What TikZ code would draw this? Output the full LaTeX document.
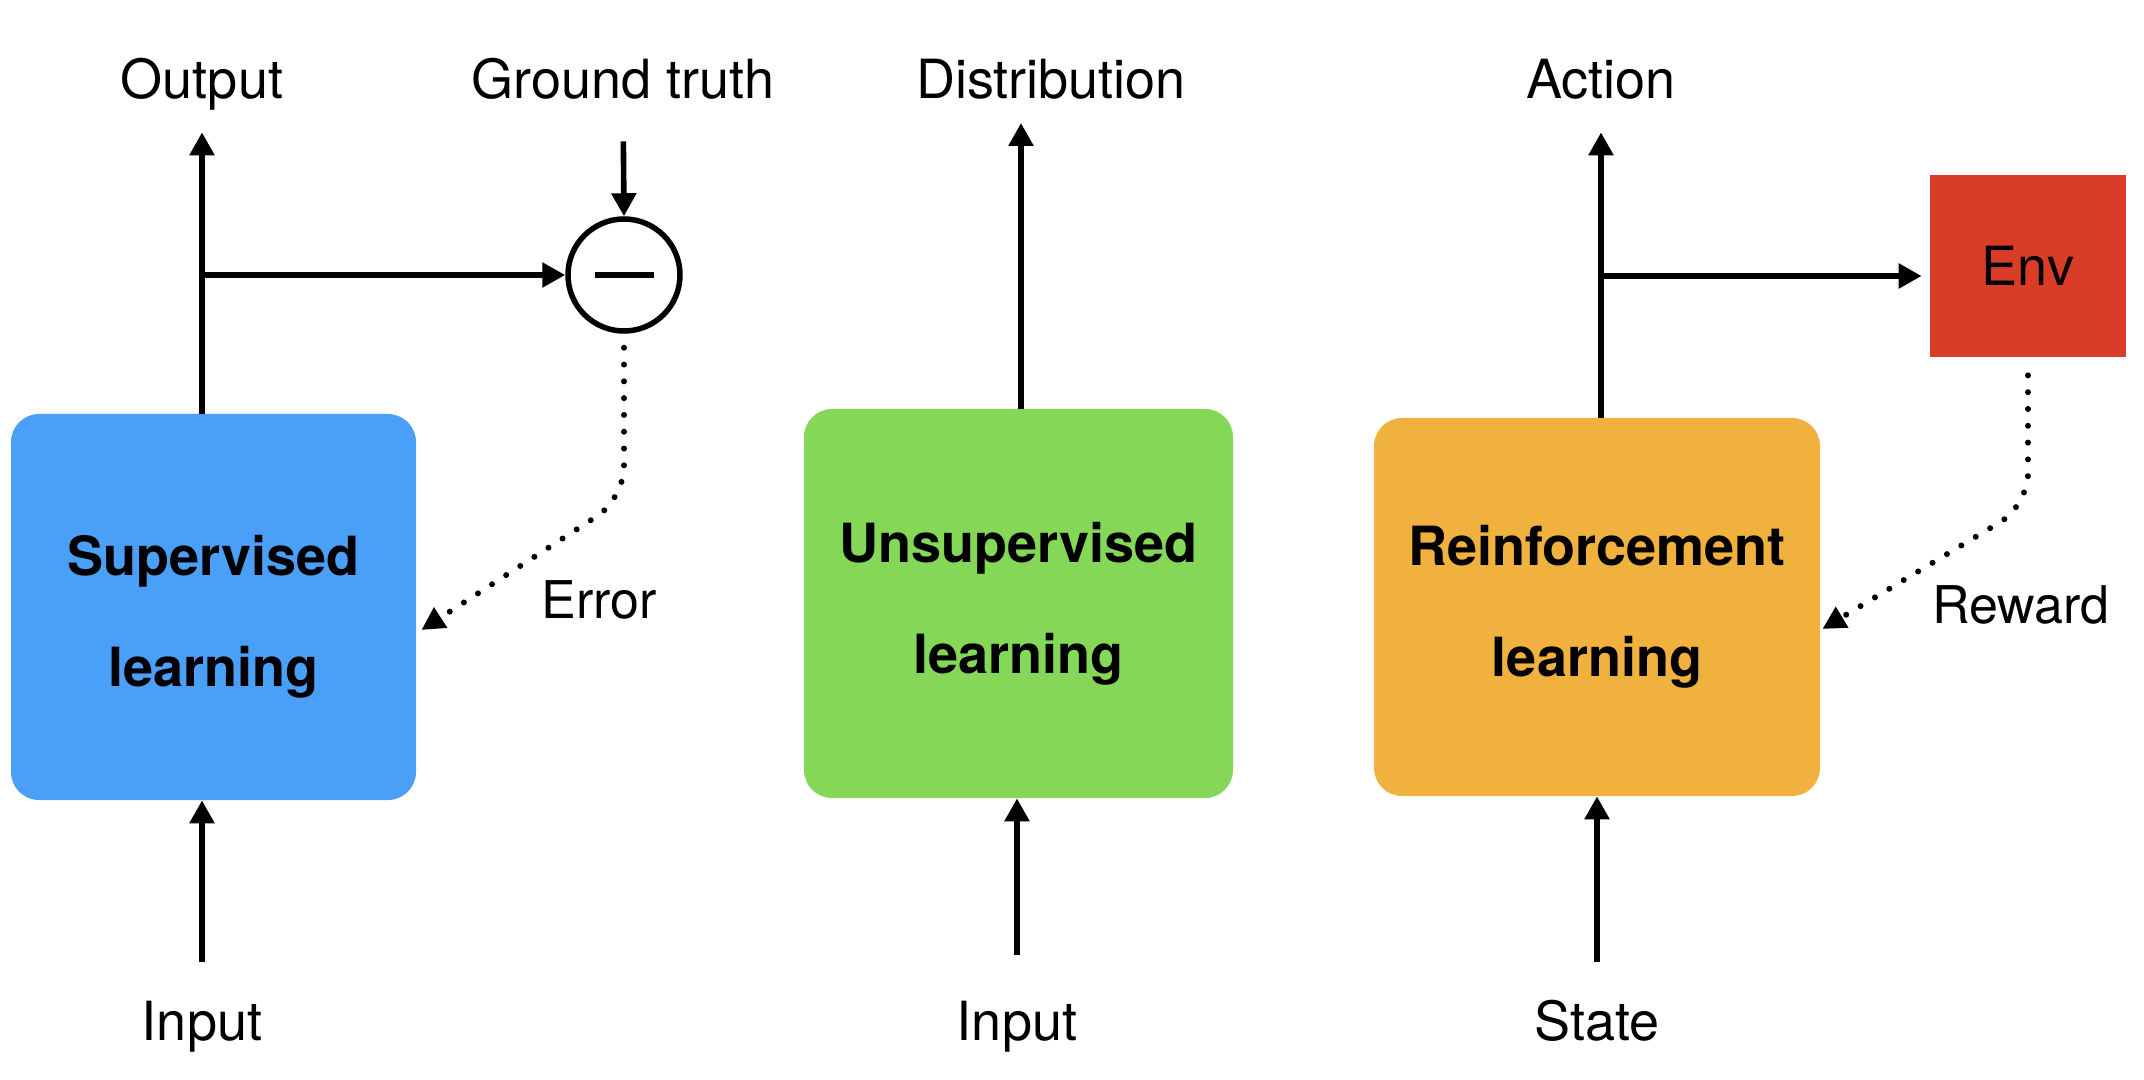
\documentclass[tikz,border=0pt]{standalone}
\usepackage{fontspec}
\setmainfont{TeX Gyre Heros}
\usetikzlibrary{arrows.meta}

\definecolor{supblue}{RGB}{74,159,248}
\definecolor{unsupgreen}{RGB}{132,215,87}
\definecolor{rlorange}{RGB}{241,177,62}
\definecolor{envred}{RGB}{218,61,39}

\tikzset{
    learnbox/.style={rectangle, rounded corners=14pt, inner sep=0pt, align=center,
        font=\bfseries\fontsize{27}{55.5}\selectfont},
    lbl/.style={inner sep=0pt, text height=19.5pt, text depth=0pt,
        font=\fontsize{27}{32}\selectfont},
    arr/.style={line width=2.8pt, -{Triangle[length=11.5pt,width=12pt]}},
    dotarr/.style={line width=3pt, line cap=round, dash pattern=on 0pt off 8.4pt,
        rounded corners=16pt, -{Triangle[length=11.5pt,width=11.5pt]}},
}

\begin{document}
\begin{tikzpicture}[x=0.5pt, y=-0.5pt]
    \useasboundingbox (0,0) rectangle (2144,1080);

    % Learning blocks:
    \node [learnbox, fill=supblue, minimum width=202.5pt, minimum height=193pt]
        (sup) at (213.5,607) {\rule{0pt}{30pt}Supervised\\learning};
    \node [learnbox, fill=unsupgreen, minimum width=214.5pt, minimum height=194.5pt]
        (unsup) at (1018.5,603.5) {Unsupervised\\learning};
    \node [learnbox, fill=rlorange, minimum width=223pt, minimum height=189pt]
        (rl) at (1597,607) {Reinforcement\\learning};

    % Subtraction and environment:
    \node [circle, draw, line width=2.75pt, minimum size=56pt, inner sep=0pt]
        (minus) at (624,275) {};
    \draw [line width=2.75pt] ([xshift=-14.75pt]minus.center) -- ([xshift=14.75pt]minus.center);
    \node [rectangle, fill=envred, minimum width=98pt, minimum height=91pt, inner sep=0pt,
        font=\fontsize{27}{32}\selectfont] (env) at (2028,266) {Env};

    % Labels on top, and what goes up to them:
    \node [lbl, anchor=base] (out) at (202,99) {Output};
    \node [lbl, anchor=base] (gt) at (623,99) {Ground truth};
    \node [lbl, anchor=base] (dist) at (1051,99) {Distribution};
    \node [lbl, anchor=base] (act) at (1601,99) {Action};

    \draw [arr, shorten >=16.5pt] (sup.north -| out.south) -- (out.south);
    \draw [arr, shorten >=12pt] (unsup.north -| 1021,0) -- (1021,99);
    \draw [arr, shorten >=16.5pt] (rl.north -| act.south) -- (act.south);
    \draw [arr, shorten <=21pt] (gt.south) -- (minus.north);

    % Side branches:
    \draw [arr] (out.south |- minus.west) -- (minus.west);
    \draw [arr, shorten >=4pt] (act.south |- 0,276) -- (env.west |- 0,276);

    % Feedback:
    \node [lbl, font=\fontsize{26}{32}\selectfont] (err) at (599,599) {Error};
    \node [lbl, font=\fontsize{26}{32}\selectfont] (rew) at (2021,604) {Reward};
    \draw [dotarr, shorten <=7pt] (minus.south) -- ++(0,165) -- ([shift={(2.5pt,-11.5pt)}]sup.east);
    \draw [dotarr, shorten <=9pt] (env.south) -- ++(0,148) -- ([shift={(1pt,-11pt)}]rl.east);

    % Inputs at the bottom:
    \foreach \b/\x/\t/\s in {sup/202/Input/19.5pt, unsup/1017/Input/23pt, rl/1597/State/19.5pt}{
        \node [lbl, anchor=base] (in-\b) at (\x,1040) {\t};
        \draw [arr, shorten <=\s] (in-\b.north) -- (\b.south -| in-\b.north);
    }
\end{tikzpicture}
\end{document}
